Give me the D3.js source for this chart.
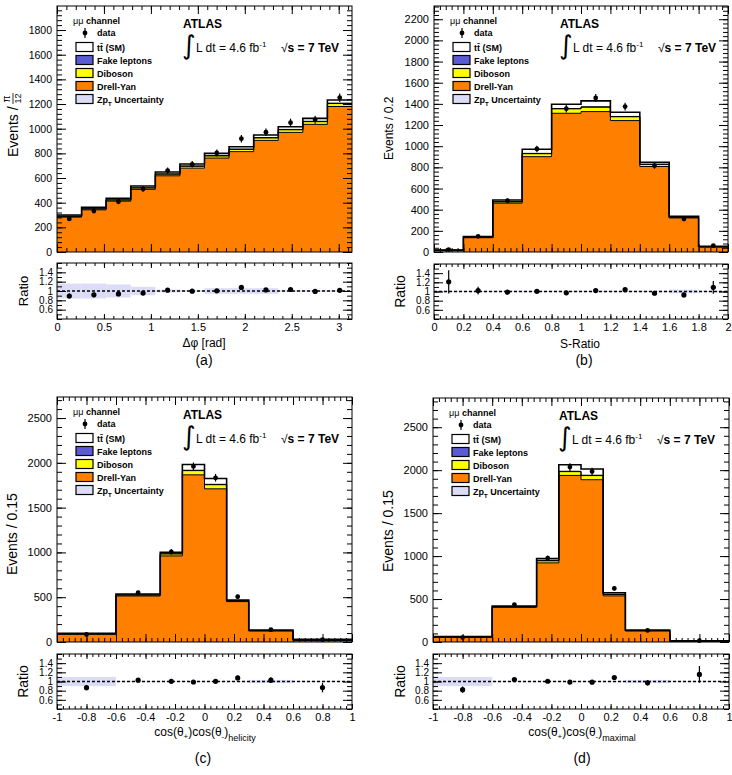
<!DOCTYPE html>
<html>
<head>
<meta charset="UTF-8">
<title>mumu channel distributions</title>
<script src="https://cdn.jsdelivr.net/npm/d3@7"></script>
<style>
body { margin: 0; background: #fff; }
</style>
</head>
<body>
<div id="app"></div>
<script>
// ---------- data (a): delta phi ----------
var dphiEdges = d3.range(13).map(function(i){ return i * Math.PI / 12; });
var dphiDrellYan = [283, 342, 412, 508, 618, 680, 762, 814, 905, 970, 1035, 1180];
var dphiDiboson  = [6, 7, 9, 11, 13, 15, 17, 18, 20, 21, 22, 24];
var dphiFake     = [2, 2, 2, 2, 3, 3, 3, 3, 3, 3, 3, 3];
var dphiTtbar    = [9, 11, 12, 14, 15, 16, 18, 19, 21, 22, 24, 26];
var dphiData     = [268, 332, 408, 511, 660, 711, 803, 919, 971, 1049, 1073, 1251];
var dphiZptUnc   = [0.16, 0.16, 0.14, 0.09, 0.03, 0.02, 0.06, 0.06, 0.06, 0.02, 0.02, 0.02];
var dphiTicks    = [0, 0.5, 1, 1.5, 2, 2.5, 3];
var dphiCountTicks = [0, 200, 400, 600, 800, 1000, 1200, 1400, 1600, 1800];

// ---------- data (b): S-ratio ----------
var sratioEdges    = [0, 0.2, 0.4, 0.6, 0.8, 1.0, 1.2, 1.4, 1.6, 1.8, 2.0];
var sratioDrellYan = [15, 135, 462, 901, 1311, 1327, 1242, 808, 322, 47];
var sratioDiboson  = [1, 4, 12, 28, 42, 42, 36, 20, 7, 2];
var sratioFake     = [1, 1, 2, 3, 3, 3, 3, 2, 1, 1];
var sratioTtbar    = [2, 5, 16, 39, 40, 56, 40, 18, 7, 5];
var sratioData     = [23, 148, 485, 974, 1355, 1456, 1374, 816, 312, 60];
var sratioZptUnc   = [0.015, 0.015, 0.015, 0.015, 0.015, 0.015, 0.015, 0.015, 0.04, 0.015];
var sratioTicks    = [0, 0.2, 0.4, 0.6, 0.8, 1, 1.2, 1.4, 1.6, 1.8, 2];
var sratioCountTicks = [0, 200, 400, 600, 800, 1000, 1200, 1400, 1600, 1800, 2000, 2200];

// ---------- data (c)/(d): cos x cos ----------
var cosEdges = [-1, -0.6, -0.3, -0.15, 0, 0.15, 0.3, 0.6, 1];
var helDrellYan = [86, 514, 961, 1866, 1710, 451, 123, 15];
var helDiboson  = [4, 10, 22, 47, 46, 8, 4, 3];
var helFake     = [1, 2, 3, 4, 4, 2, 1, 1];
var helTtbar    = [6, 10, 16, 65, 65, 8, 6, 11];
var helData     = [84, 551, 1006, 1960, 1833, 506, 138, 26];
var helZptUnc   = [0.1, 0.01, 0.01, 0.01, 0.01, 0.01, 0.035, 0.01];

var maxDrellYan = [55, 403, 921, 1939, 1889, 537, 128, 6];
var maxDiboson  = [3, 8, 24, 44, 48, 16, 5, 2];
var maxFake     = [1, 2, 3, 4, 4, 3, 1, 1];
var maxTtbar    = [3, 5, 22, 76, 72, 17, 5, 4];
var maxData     = [51, 436, 975, 2036, 1985, 623, 135, 15];
var maxZptUnc   = [0.1, 0.01, 0.01, 0.01, 0.01, 0.01, 0.035, 0.01];

var cosTicks = [-1, -0.8, -0.6, -0.4, -0.2, 0, 0.2, 0.4, 0.6, 0.8, 1];
var cosCountTicks = [0, 500, 1000, 1500, 2000, 2500];
var ratioTicks = [0.6, 0.8, 1, 1.2, 1.4];

// ---------- style ----------
var FONT = '"Liberation Sans", Arial, Helvetica, sans-serif';
var colDY = '#ff7f00', colDib = '#ffff00', colFake = '#5b5bd6', colTt = '#ffffff', colUnc = '#dcdcf7';

var svg = d3.select('#app').append('svg')
    .attr('width', 732).attr('height', 775)
    .style('font-family', FONT);

function cleanAxis(g, fs) {
    g.select('.domain').remove();
    g.attr('font-family', null).attr('font-size', fs);
    g.selectAll('line').attr('stroke', '#000');
}

function minorVals(a, b, step) {
    return d3.range(a, b + step * 0.01, step);
}

function drawPanel(p) {
    var n = p.data.length;
    var x = d3.scaleLinear().domain(p.xDomain).range([p.x0, p.x1]);
    var y = d3.scaleLinear().domain([0, p.yMax]).range([p.y1, p.y0]);
    var yr = d3.scaleLinear().domain([0.4, 1.6]).range([p.r1, p.r0]);

    // stack: DY, diboson, fakes, ttbar
    var layers = [
        {v: p.dy, c: colDY}, {v: p.dib, c: colDib},
        {v: p.fake, c: colFake}, {v: p.tt, c: colTt}
    ];
    var cum = d3.range(n).map(function(){ return 0; });
    layers.forEach(function(l){
        l.lo = cum.slice();
        cum = cum.map(function(c, i){ return c + l.v[i]; });
        l.hi = cum.slice();
    });
    var total = cum;

    svg.append('clipPath').attr('id', 'clip' + p.tag)
        .append('rect').attr('x', p.x0).attr('y', p.y0)
        .attr('width', p.x1 - p.x0).attr('height', p.y1 - p.y0);
    var g = svg.append('g').attr('clip-path', 'url(#clip' + p.tag + ')');

    var area = d3.area().curve(d3.curveStepAfter)
        .x(function(d){ return x(d.e); })
        .y0(function(d){ return y(d.lo); })
        .y1(function(d){ return y(d.hi); });
    var line = d3.line().curve(d3.curveStepAfter)
        .x(function(d){ return x(d.e); })
        .y(function(d){ return y(d.hi); });
    function pts(l) {
        return p.edges.map(function(e, i){
            var k = Math.min(i, n - 1);
            return {e: e, lo: l.lo[k], hi: l.hi[k]};
        });
    }
    layers.forEach(function(l){
        g.append('path').attr('d', area(pts(l))).attr('fill', l.c).attr('stroke', 'none');
    });
    layers.forEach(function(l, li){
        g.append('path').attr('d', line(pts(l))).attr('fill', 'none')
            .attr('stroke', '#000').attr('stroke-width', li === 3 ? 1.6 : 1);
    });

    // data points (poisson errors on the unnormalised counts)
    var centers = d3.range(n).map(function(i){ return (p.edges[i] + p.edges[i + 1]) / 2; });
    var raw = d3.range(n).map(function(i){ return p.data[i] * (p.edges[i + 1] - p.edges[i]) / p.unit; });
    var err = d3.range(n).map(function(i){ return p.data[i] / Math.sqrt(raw[i]); });
    var dg = svg.append('g');
    dg.selectAll('line').data(d3.range(n)).enter().append('line')
        .attr('x1', function(i){ return x(centers[i]); })
        .attr('x2', function(i){ return x(centers[i]); })
        .attr('y1', function(i){ return y(p.data[i] - err[i]); })
        .attr('y2', function(i){ return y(p.data[i] + err[i]); })
        .attr('stroke', '#000').attr('stroke-width', 1.2);
    dg.selectAll('circle').data(d3.range(n)).enter().append('circle')
        .attr('cx', function(i){ return x(centers[i]); })
        .attr('cy', function(i){ return y(p.data[i]); })
        .attr('r', 2.4).attr('fill', '#000');

    // main axes
    var yMin = minorVals(0, p.yMax, p.yMinor);
    var xMin = minorVals(p.xDomain[0], p.xDomain[1], p.xMinor);
    var noLab = function(){ return ''; };
    var ax;
    ax = svg.append('g').attr('transform', 'translate(' + p.x0 + ',0)')
        .call(d3.axisLeft(y).tickValues(yMin).tickSize(-5).tickSizeOuter(0).tickFormat(noLab));
    cleanAxis(ax, 10);
    ax = svg.append('g').attr('transform', 'translate(' + p.x0 + ',0)')
        .call(d3.axisLeft(y).tickValues(p.yTicks).tickSize(-9).tickSizeOuter(0).tickPadding(5)
              .tickFormat(function(d){ return String(d); }));
    cleanAxis(ax, p.yFont);
    ax = svg.append('g').attr('transform', 'translate(' + p.x1 + ',0)')
        .call(d3.axisRight(y).tickValues(yMin).tickSize(-5).tickSizeOuter(0).tickFormat(noLab));
    cleanAxis(ax, 10);
    ax = svg.append('g').attr('transform', 'translate(' + p.x1 + ',0)')
        .call(d3.axisRight(y).tickValues(p.yTicks).tickSize(-9).tickSizeOuter(0).tickFormat(noLab));
    cleanAxis(ax, 10);
    [p.y0, p.y1].forEach(function(yy){
        var mk = yy === p.y0 ? d3.axisTop : d3.axisBottom;
        var a1 = svg.append('g').attr('transform', 'translate(0,' + yy + ')')
            .call(mk(x).tickValues(xMin).tickSize(-4).tickSizeOuter(0).tickFormat(noLab));
        cleanAxis(a1, 10);
        var a2 = svg.append('g').attr('transform', 'translate(0,' + yy + ')')
            .call(mk(x).tickValues(p.xTicks).tickSize(-8).tickSizeOuter(0).tickFormat(noLab));
        cleanAxis(a2, 10);
    });
    svg.append('rect').attr('x', p.x0).attr('y', p.y0)
        .attr('width', p.x1 - p.x0).attr('height', p.y1 - p.y0)
        .attr('fill', 'none').attr('stroke', '#000').attr('stroke-width', 1);

    // ratio panel
    var rg = svg.append('g');
    rg.selectAll('rect.unc').data(d3.range(n)).enter().append('rect')
        .attr('x', function(i){ return x(p.edges[i]); })
        .attr('width', function(i){ return x(p.edges[i + 1]) - x(p.edges[i]); })
        .attr('y', function(i){ return yr(1 + p.unc[i]); })
        .attr('height', function(i){ return yr(1 - p.unc[i]) - yr(1 + p.unc[i]); })
        .attr('fill', colUnc);
    rg.append('line').attr('x1', p.x0).attr('x2', p.x1).attr('y1', yr(1)).attr('y2', yr(1))
        .attr('stroke', '#000').attr('stroke-width', 1.3).attr('stroke-dasharray', '3,2');
    var ratio = d3.range(n).map(function(i){ return p.data[i] / total[i]; });
    var rerr = d3.range(n).map(function(i){ return err[i] / total[i]; });
    rg.selectAll('line.err').data(d3.range(n)).enter().append('line')
        .attr('x1', function(i){ return x(centers[i]); })
        .attr('x2', function(i){ return x(centers[i]); })
        .attr('y1', function(i){ return yr(ratio[i] - rerr[i]); })
        .attr('y2', function(i){ return yr(ratio[i] + rerr[i]); })
        .attr('stroke', '#000').attr('stroke-width', 1.2);
    rg.selectAll('circle').data(d3.range(n)).enter().append('circle')
        .attr('cx', function(i){ return x(centers[i]); })
        .attr('cy', function(i){ return yr(ratio[i]); })
        .attr('r', 2.6).attr('fill', '#000');

    var rMin = minorVals(0.4, 1.6, 0.1);
    ax = svg.append('g').attr('transform', 'translate(' + p.x0 + ',0)')
        .call(d3.axisLeft(yr).tickValues(rMin).tickSize(-5).tickSizeOuter(0).tickFormat(noLab));
    cleanAxis(ax, 10);
    ax = svg.append('g').attr('transform', 'translate(' + p.x0 + ',0)')
        .call(d3.axisLeft(yr).tickValues(ratioTicks).tickSize(-9).tickSizeOuter(0).tickPadding(4)
              .tickFormat(function(d){ return String(d); }));
    cleanAxis(ax, 10);
    ax = svg.append('g').attr('transform', 'translate(' + p.x1 + ',0)')
        .call(d3.axisRight(yr).tickValues(rMin).tickSize(-5).tickSizeOuter(0).tickFormat(noLab));
    cleanAxis(ax, 10);
    ax = svg.append('g').attr('transform', 'translate(' + p.x1 + ',0)')
        .call(d3.axisRight(yr).tickValues(ratioTicks).tickSize(-9).tickSizeOuter(0).tickFormat(noLab));
    cleanAxis(ax, 10);
    ax = svg.append('g').attr('transform', 'translate(0,' + p.r0 + ')')
        .call(d3.axisTop(x).tickValues(xMin).tickSize(-3).tickSizeOuter(0).tickFormat(noLab));
    cleanAxis(ax, 10);
    ax = svg.append('g').attr('transform', 'translate(0,' + p.r0 + ')')
        .call(d3.axisTop(x).tickValues(p.xTicks).tickSize(-5).tickSizeOuter(0).tickFormat(noLab));
    cleanAxis(ax, 10);
    ax = svg.append('g').attr('transform', 'translate(0,' + p.r1 + ')')
        .call(d3.axisBottom(x).tickValues(xMin).tickSize(-3).tickSizeOuter(0).tickFormat(noLab));
    cleanAxis(ax, 10);
    ax = svg.append('g').attr('transform', 'translate(0,' + p.r1 + ')')
        .call(d3.axisBottom(x).tickValues(p.xTicks).tickSize(-5).tickSizeOuter(0).tickPadding(4)
              .tickFormat(function(d){ return String(d); }));
    cleanAxis(ax, 11);
    svg.append('rect').attr('x', p.x0).attr('y', p.r0)
        .attr('width', p.x1 - p.x0).attr('height', p.r1 - p.r0)
        .attr('fill', 'none').attr('stroke', '#000').attr('stroke-width', 1);

    // axis titles
    svg.append('text').attr('transform', 'translate(' + p.ratioLabX + ',' + ((p.r0 + p.r1) / 2) + ') rotate(-90)')
        .attr('text-anchor', 'middle').attr('font-size', p.ratioFont).text('Ratio');
    p.yTitle(svg.append('g'));
    p.xTitle(svg.append('g'));
    svg.append('text').attr('x', p.tagX).attr('y', p.tagY).attr('text-anchor', 'middle')
        .attr('font-size', 14).text('(' + p.tag + ')');

    // legend + labels
    var lg = svg.append('g').attr('transform', 'translate(' + p.x0 + ',' + p.y0 + ')')
        .attr('font-size', 9).attr('font-weight', 'bold');
    var ch = lg.append('text').attr('x', 16).attr('y', 18);
    ch.append('tspan').attr('font-weight', 'normal').text('\u03bc\u03bc ');
    ch.append('tspan').text('channel');
    lg.append('line').attr('x1', 28).attr('x2', 28).attr('y1', 22).attr('y2', 32)
        .attr('stroke', '#000').attr('stroke-width', 1.2);
    lg.append('circle').attr('cx', 28).attr('cy', 27).attr('r', 2.4).attr('fill', '#000');
    lg.append('text').attr('x', 40).attr('y', 30).text('data');
    var entries = [
        {c: colTt, t: 'tt\u0304 (SM)'}, {c: colFake, t: 'Fake leptons'},
        {c: colDib, t: 'Diboson'}, {c: colDY, t: 'Drell-Yan'}, {c: colUnc, t: 'Zp'}
    ];
    entries.forEach(function(e, i){
        var cy = 41 + i * 13;
        lg.append('rect').attr('x', 19).attr('y', cy - 4.5).attr('width', 17).attr('height', 9)
            .attr('fill', e.c).attr('stroke', '#000').attr('stroke-width', 1.2);
        var t = lg.append('text').attr('x', 40).attr('y', cy + 3.5).text(e.t);
        if (i === 4) {
            t.append('tspan').attr('font-size', 6).attr('dy', 3).text('T');
            t.append('tspan').attr('dy', -3).text(' Uncertainty');
        }
    });
    lg.append('text').attr('x', 126).attr('y', 22).attr('font-size', 12).text('ATLAS');
    lg.append('text').attr('x', 125).attr('y', 48).attr('font-size', 26).attr('font-weight', 'normal')
        .attr('font-family', 'DejaVu Sans').text('\u222b');
    var lum = lg.append('text').attr('x', 139).attr('y', 46).attr('font-size', 12).attr('font-weight', 'normal');
    lum.append('tspan').text('L dt = 4.6 fb');
    lum.append('tspan').attr('font-size', 8).attr('dy', -5).text('-1');
    var rs = lg.append('text').attr('x', 224).attr('y', 46).attr('font-size', 12);
    rs.append('tspan').attr('font-weight', 'normal').text('\u221a');
    rs.append('tspan').text('s = 7 TeV');
}

function eventsTitle(x, yBottom, fs, txt) {
    return function(g){
        g.append('text').attr('transform', 'translate(' + x + ',' + yBottom + ') rotate(-90)')
            .attr('font-size', fs).text(txt);
    };
}

function cosTitle(cx, yb, sub) {
    return function(g){
        var t = g.append('text').attr('x', cx).attr('y', yb).attr('text-anchor', 'middle').attr('font-size', 12);
        t.append('tspan').text('cos(\u03b8');
        t.append('tspan').attr('font-size', 8).attr('dy', 3).text('+');
        t.append('tspan').attr('dy', -3).text(')cos(\u03b8');
        t.append('tspan').attr('font-size', 8).attr('dy', 3).text('-');
        t.append('tspan').attr('dy', -3).text(')');
        t.append('tspan').attr('font-size', 9).attr('dy', 5).text(sub);
    };
}

drawPanel({
    tag: 'a', x0: 57, x1: 352, y0: 6, y1: 252, r0: 263, r1: 319,
    xDomain: [0, Math.PI], edges: dphiEdges, unit: Math.PI / 12,
    dy: dphiDrellYan, dib: dphiDiboson, fake: dphiFake, tt: dphiTtbar, data: dphiData, unc: dphiZptUnc,
    yMax: 1995, yTicks: dphiCountTicks, yMinor: 40, yFont: 10.5,
    xTicks: dphiTicks, xMinor: 0.1,
    ratioLabX: 28, ratioFont: 13, tagX: 204, tagY: 365,
    yTitle: function(g){
        var t = g.append('g').attr('transform', 'translate(18,157) rotate(-90)');
        t.append('text').attr('font-size', 14).text('Events /');
        t.append('text').attr('x', 58).attr('y', -8).attr('text-anchor', 'middle').attr('font-size', 10).text('\u03c0');
        t.append('line').attr('x1', 53).attr('x2', 64).attr('y1', -5).attr('y2', -5)
            .attr('stroke', '#000').attr('stroke-width', 0.8);
        t.append('text').attr('x', 58.5).attr('y', 3).attr('text-anchor', 'middle').attr('font-size', 9).text('12');
    },
    xTitle: function(g){
        g.append('text').attr('x', 204).attr('y', 347).attr('text-anchor', 'middle')
            .attr('font-size', 12).text('\u0394\u03c6 [rad]');
    }
});

drawPanel({
    tag: 'b', x0: 434, x1: 728, y0: 6, y1: 252, r0: 264, r1: 319,
    xDomain: [0, 2], edges: sratioEdges, unit: 0.2,
    dy: sratioDrellYan, dib: sratioDiboson, fake: sratioFake, tt: sratioTtbar, data: sratioData, unc: sratioZptUnc,
    yMax: 2325, yTicks: sratioCountTicks, yMinor: 40, yFont: 11,
    xTicks: sratioTicks, xMinor: 0.04,
    ratioLabX: 405, ratioFont: 14, tagX: 584, tagY: 365,
    yTitle: eventsTitle(393, 160, 12, 'Events / 0.2'),
    xTitle: function(g){
        g.append('text').attr('x', 580).attr('y', 348).attr('text-anchor', 'middle')
            .attr('font-size', 12).text('S-Ratio');
    }
});

drawPanel({
    tag: 'c', x0: 57, x1: 352, y0: 397, y1: 642, r0: 654, r1: 709,
    xDomain: [-1, 1], edges: cosEdges, unit: 0.15,
    dy: helDrellYan, dib: helDiboson, fake: helFake, tt: helTtbar, data: helData, unc: helZptUnc,
    yMax: 2735, yTicks: cosCountTicks, yMinor: 100, yFont: 11,
    xTicks: cosTicks, xMinor: 0.04,
    ratioLabX: 28, ratioFont: 14, tagX: 203, tagY: 763,
    yTitle: eventsTitle(17, 575, 14, 'Events / 0.15'),
    xTitle: cosTitle(205, 736, 'helicity')
});

drawPanel({
    tag: 'd', x0: 433, x1: 729, y0: 398, y1: 642, r0: 654, r1: 709,
    xDomain: [-1, 1], edges: cosEdges, unit: 0.15,
    dy: maxDrellYan, dib: maxDiboson, fake: maxFake, tt: maxTtbar, data: maxData, unc: maxZptUnc,
    yMax: 2840, yTicks: cosCountTicks, yMinor: 100, yFont: 11,
    xTicks: cosTicks, xMinor: 0.04,
    ratioLabX: 405, ratioFont: 14, tagX: 582, tagY: 763,
    yTitle: eventsTitle(393, 572, 14, 'Events / 0.15'),
    xTitle: cosTitle(582, 736, 'maximal')
});
</script>
</body>
</html>
